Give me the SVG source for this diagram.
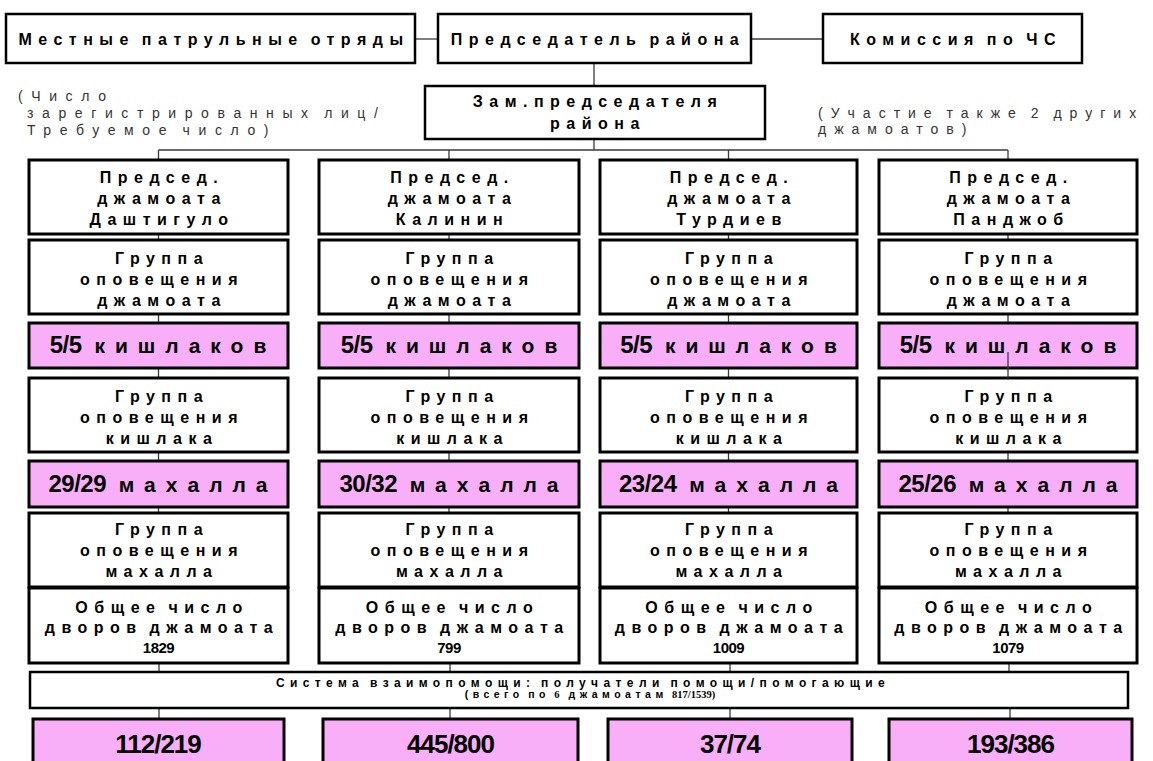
<svg xmlns="http://www.w3.org/2000/svg" width="1153" height="761" viewBox="0 0 1153 761">
<style>
.b{fill:#fff;stroke:#000;stroke-width:3}
.tb{fill:#fff;stroke:#000;stroke-width:2.5}
.p{fill:#f8aff8;stroke:#000;stroke-width:3}
.c line{stroke:#3a3a3a;stroke-width:1.3}
.t{font-family:"Liberation Sans",Arial,sans-serif;font-weight:bold;font-size:16px;letter-spacing:6.5px;word-spacing:-4px;text-anchor:middle;fill:#000}
.n{font-family:"Liberation Sans",Arial,sans-serif;font-size:14px;letter-spacing:8.6px;word-spacing:-5px;fill:#333}
.nr{letter-spacing:8px;word-spacing:-5px}
.pk{font-family:"Liberation Sans",Arial,sans-serif;font-weight:bold;font-size:21px;letter-spacing:10px;word-spacing:-3px;text-anchor:middle;fill:#000}
.num{font-size:24px;letter-spacing:-0.5px}
.cnt{font-family:"Liberation Sans",Arial,sans-serif;font-weight:bold;font-size:15px;letter-spacing:-0.5px;text-anchor:middle;fill:#000}
.big{font-family:"Liberation Sans",Arial,sans-serif;font-weight:bold;font-size:26px;letter-spacing:-1px;text-anchor:middle;fill:#000}
.s1{font-family:"Liberation Sans",Arial,sans-serif;font-weight:bold;font-size:12px;letter-spacing:5.4px;word-spacing:-3px;text-anchor:middle;fill:#000}
.s2{font-family:"Liberation Sans",Arial,sans-serif;font-weight:bold;font-size:10.5px;letter-spacing:4.5px;word-spacing:-3px;text-anchor:middle;fill:#000}
.sr{font-family:"Liberation Serif","Times New Roman",serif}
.sr0{font-family:"Liberation Serif","Times New Roman",serif;letter-spacing:0;word-spacing:0}
</style>

<g id="connectors" class="c">
<line x1="415" y1="39" x2="438" y2="39"/>
<line x1="751" y1="39" x2="823" y2="39"/>
<line x1="594" y1="63" x2="594" y2="86"/>
<line x1="594" y1="139" x2="594" y2="150"/>
<line x1="158.5" y1="150" x2="1008" y2="150"/>
<line x1="158.5" y1="150" x2="158.5" y2="160"/>
<line x1="449" y1="150" x2="449" y2="160"/>
<line x1="728.5" y1="150" x2="728.5" y2="160"/>
<line x1="1008" y1="150" x2="1008" y2="160"/>
<line x1="158.5" y1="234" x2="158.5" y2="240"/>
<line x1="449" y1="234" x2="449" y2="240"/>
<line x1="728.5" y1="234" x2="728.5" y2="240"/>
<line x1="1008" y1="234" x2="1008" y2="240"/>
<line x1="158.5" y1="314" x2="158.5" y2="323"/>
<line x1="449" y1="314" x2="449" y2="323"/>
<line x1="728.5" y1="314" x2="728.5" y2="323"/>
<line x1="1008" y1="314" x2="1008" y2="323"/>
<line x1="158.5" y1="368" x2="158.5" y2="378"/>
<line x1="449" y1="368" x2="449" y2="378"/>
<line x1="728.5" y1="368" x2="728.5" y2="378"/>
<line x1="158.5" y1="452" x2="158.5" y2="461"/>
<line x1="449" y1="452" x2="449" y2="461"/>
<line x1="728.5" y1="452" x2="728.5" y2="461"/>
<line x1="1008" y1="452" x2="1008" y2="461"/>
<line x1="158.5" y1="507" x2="158.5" y2="513"/>
<line x1="449" y1="507" x2="449" y2="513"/>
<line x1="728.5" y1="507" x2="728.5" y2="513"/>
<line x1="1008" y1="507" x2="1008" y2="513"/>
<line x1="159" y1="663" x2="159" y2="672"/>
<line x1="450" y1="663" x2="450" y2="672"/>
<line x1="730" y1="663" x2="730" y2="672"/>
<line x1="1009" y1="663" x2="1009" y2="672"/>
<line x1="159" y1="708" x2="159" y2="719"/>
<line x1="450" y1="708" x2="450" y2="719"/>
<line x1="730" y1="708" x2="730" y2="719"/>
<line x1="1010" y1="708" x2="1010" y2="719"/>
</g>

<g id="patrol"><rect class="tb" x="6" y="14" width="409" height="49"/><text class="t" x="214" y="45">Местные патрульные отряды</text></g>
<g id="chairman"><rect class="tb" x="438" y="14" width="313" height="49"/><text class="t" x="598" y="45">Председатель района</text></g>
<g id="commission"><rect class="tb" x="823" y="14" width="259" height="49"/><text class="t" x="956" y="45">Комиссия по ЧС</text></g>
<g id="deputy"><rect class="tb" x="425" y="86" width="340" height="53"/><text class="t" x="598" y="107">Зам.председателя</text><text class="t" x="598" y="129">района</text></g>

<g id="note-left"><text class="n" x="18" y="101">(Число</text><text class="n" x="27" y="118">зарегистрированных лиц/</text><text class="n" x="27" y="135">Требуемое число)</text></g>
<g id="note-right"><text class="n nr" x="818" y="118">(Участие также 2 других</text><text class="n nr" x="818" y="134">джамоатов)</text></g>

<!-- Column 1 -->
<g id="c1-head"><rect class="b" x="29" y="160" width="259" height="74"/><text class="t" x="162" y="183">Председ.</text><text class="t" x="162" y="204">джамоата</text><text class="t" x="162" y="225">Даштигуло</text></g>
<g id="c1-jgroup"><rect class="b" x="29" y="240" width="259" height="74"/><text class="t" x="162" y="264">Группа</text><text class="t" x="162" y="285">оповещения</text><text class="t" x="162" y="306">джамоата</text></g>
<g id="c1-kish"><rect class="p" x="29" y="323" width="259" height="45"/><text class="pk" x="163" y="353"><tspan class="num">5/5</tspan> кишлаков</text></g>
<g id="c1-kgroup"><rect class="b" x="29" y="378" width="259" height="74"/><text class="t" x="162" y="402">Группа</text><text class="t" x="162" y="423">оповещения</text><text class="t" x="162" y="444">кишлака</text></g>
<g id="c1-mah"><rect class="p" x="29" y="461" width="259" height="46"/><text class="pk" x="163" y="492"><tspan class="num">29/29</tspan> махалла</text></g>
<g id="c1-mgroup"><rect class="b" x="29" y="513" width="259" height="74"/><text class="t" x="162" y="535">Группа</text><text class="t" x="162" y="556">оповещения</text><text class="t" x="162" y="577">махалла</text></g>
<g id="c1-total"><rect class="b" x="29" y="588" width="259" height="75"/><text class="t" x="162" y="613">Общее число</text><text class="t" x="162" y="633">дворов джамоата</text><text class="cnt" x="158.5" y="653">1829</text></g>

<!-- Column 2 -->
<g id="c2-head"><rect class="b" x="319" y="160" width="260" height="74"/><text class="t" x="452.5" y="183">Председ.</text><text class="t" x="452.5" y="204">джамоата</text><text class="t" x="452.5" y="225">Калинин</text></g>
<g id="c2-jgroup"><rect class="b" x="319" y="240" width="260" height="74"/><text class="t" x="452.5" y="264">Группа</text><text class="t" x="452.5" y="285">оповещения</text><text class="t" x="452.5" y="306">джамоата</text></g>
<g id="c2-kish"><rect class="p" x="319" y="323" width="260" height="45"/><text class="pk" x="454" y="353"><tspan class="num">5/5</tspan> кишлаков</text></g>
<g id="c2-kgroup"><rect class="b" x="319" y="378" width="260" height="74"/><text class="t" x="452.5" y="402">Группа</text><text class="t" x="452.5" y="423">оповещения</text><text class="t" x="452.5" y="444">кишлака</text></g>
<g id="c2-mah"><rect class="p" x="319" y="461" width="260" height="46"/><text class="pk" x="454" y="492"><tspan class="num">30/32</tspan> махалла</text></g>
<g id="c2-mgroup"><rect class="b" x="319" y="513" width="260" height="74"/><text class="t" x="452.5" y="535">Группа</text><text class="t" x="452.5" y="556">оповещения</text><text class="t" x="452.5" y="577">махалла</text></g>
<g id="c2-total"><rect class="b" x="319" y="588" width="260" height="75"/><text class="t" x="452.5" y="613">Общее число</text><text class="t" x="452.5" y="633">дворов джамоата</text><text class="cnt" x="449" y="653">799</text></g>

<!-- Column 3 -->
<g id="c3-head"><rect class="b" x="600" y="160" width="257" height="74"/><text class="t" x="732" y="183">Председ.</text><text class="t" x="732" y="204">джамоата</text><text class="t" x="732" y="225">Турдиев</text></g>
<g id="c3-jgroup"><rect class="b" x="600" y="240" width="257" height="74"/><text class="t" x="732" y="264">Группа</text><text class="t" x="732" y="285">оповещения</text><text class="t" x="732" y="306">джамоата</text></g>
<g id="c3-kish"><rect class="p" x="600" y="323" width="257" height="45"/><text class="pk" x="733.5" y="353"><tspan class="num">5/5</tspan> кишлаков</text></g>
<g id="c3-kgroup"><rect class="b" x="600" y="378" width="257" height="74"/><text class="t" x="732" y="402">Группа</text><text class="t" x="732" y="423">оповещения</text><text class="t" x="732" y="444">кишлака</text></g>
<g id="c3-mah"><rect class="p" x="600" y="461" width="257" height="46"/><text class="pk" x="733.5" y="492"><tspan class="num">23/24</tspan> махалла</text></g>
<g id="c3-mgroup"><rect class="b" x="600" y="513" width="257" height="74"/><text class="t" x="732" y="535">Группа</text><text class="t" x="732" y="556">оповещения</text><text class="t" x="732" y="577">махалла</text></g>
<g id="c3-total"><rect class="b" x="600" y="588" width="257" height="75"/><text class="t" x="732" y="613">Общее число</text><text class="t" x="732" y="633">дворов джамоата</text><text class="cnt" x="728.5" y="653">1009</text></g>

<!-- Column 4 -->
<g id="c4-head"><rect class="b" x="879" y="160" width="258" height="74"/><text class="t" x="1011.5" y="183">Председ.</text><text class="t" x="1011.5" y="204">джамоата</text><text class="t" x="1011.5" y="225">Панджоб</text></g>
<g id="c4-jgroup"><rect class="b" x="879" y="240" width="258" height="74"/><text class="t" x="1011.5" y="264">Группа</text><text class="t" x="1011.5" y="285">оповещения</text><text class="t" x="1011.5" y="306">джамоата</text></g>
<g id="c4-kish"><rect class="p" x="879" y="323" width="258" height="45"/><text class="pk" x="1013" y="353"><tspan class="num">5/5</tspan> кишлаков</text></g>
<g id="c4-kgroup"><rect class="b" x="879" y="378" width="258" height="74"/><text class="t" x="1011.5" y="402">Группа</text><text class="t" x="1011.5" y="423">оповещения</text><text class="t" x="1011.5" y="444">кишлака</text></g>
<g id="c4-mah"><rect class="p" x="879" y="461" width="258" height="46"/><text class="pk" x="1013" y="492"><tspan class="num">25/26</tspan> махалла</text></g>
<g id="c4-mgroup"><rect class="b" x="879" y="513" width="258" height="74"/><text class="t" x="1011.5" y="535">Группа</text><text class="t" x="1011.5" y="556">оповещения</text><text class="t" x="1011.5" y="577">махалла</text></g>
<g id="c4-total"><rect class="b" x="879" y="588" width="258" height="75"/><text class="t" x="1011.5" y="613">Общее число</text><text class="t" x="1011.5" y="633">дворов джамоата</text><text class="cnt" x="1008" y="653">1079</text></g>

<g id="c4-overlay" class="c"><line x1="1008" y1="352" x2="1008" y2="378"/></g>

<g id="mutual"><rect class="tb" x="30" y="672" width="1098" height="36"/><text class="s1" x="583" y="687">Система взаимопомощи: получатели помощи/помогающие</text><text class="s2" x="590" y="698">(всего по <tspan class="sr">6</tspan> джамоатам <tspan class="sr0">817/1539)</tspan></text></g>

<g id="r1"><rect class="p" x="33" y="719" width="251" height="60"/><text class="big" x="158" y="753">112/219</text></g>
<g id="r2"><rect class="p" x="323" y="719" width="255" height="60"/><text class="big" x="450.5" y="753">445/800</text></g>
<g id="r3"><rect class="p" x="608" y="719" width="244" height="60"/><text class="big" x="730" y="753">37/74</text></g>
<g id="r4"><rect class="p" x="889" y="719" width="243" height="60"/><text class="big" x="1010.5" y="753">193/386</text></g>
</svg>
